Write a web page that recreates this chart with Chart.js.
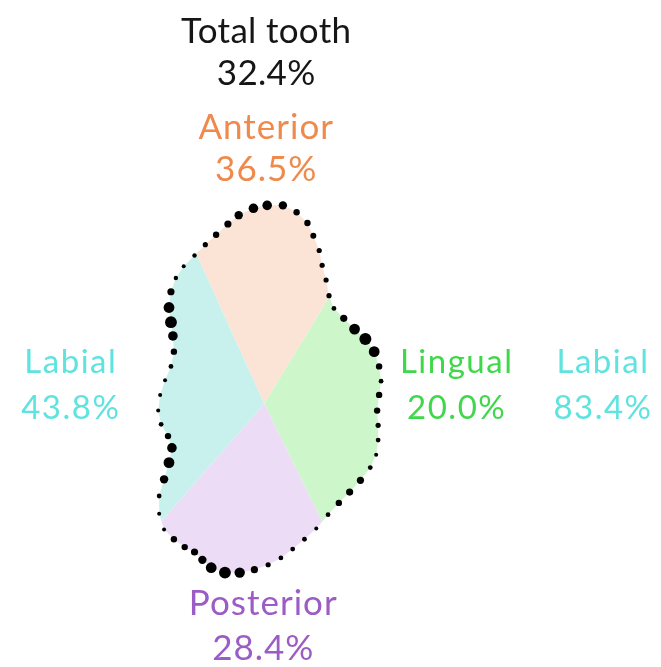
<!DOCTYPE html>
<html>
<head>
<meta charset="utf-8">
<script src="https://cdn.jsdelivr.net/npm/chart.js@4/dist/chart.umd.min.js"></script>
<style>
  html, body { margin: 0; padding: 0; background: #ffffff; }
  #wrap { width: 661px; height: 667px; }
</style>
</head>
<body>
<div id="wrap"><canvas id="tooth" width="661" height="667"></canvas></div>
<script>
// Tooth outline sample points (tooth-centred units, y up), clockwise from the tip
const outlineX = [0.3, 1.9, 3.3, 4.4, 5.0, 5.6, 5.9, 6.3, 6.6, 7.1, 8.1, 9.2, 10.3, 11.2, 11.7, 11.9,
  11.7, 11.5, 11.6, 11.6, 11.4, 10.8, 9.8, 8.7, 7.6, 6.5, 5.3, 4.1, 2.9, 1.7, 0.4, -1.0,
  -2.5, -4.0, -5.4, -6.3, -7.1, -8.1, -9.2, -10.2, -10.7, -10.7, -10.2, -9.7, -9.4, -9.8, -10.5, -10.8,
  -10.6, -10.1, -9.5, -9.2, -9.3, -9.5, -9.7, -9.5, -9.0, -8.2, -7.1, -6.0, -4.9, -3.7, -2.6, -1.1];
const outlineY = [20.2, 20.2, 19.5, 18.4, 17.1, 15.6, 14.1, 12.6, 11.0, 9.7, 8.7, 7.6, 6.6, 5.3, 3.8, 2.3,
  0.9, -0.7, -2.2, -3.7, -5.2, -6.5, -7.8, -9.0, -10.1, -11.3, -12.7, -13.8, -14.8, -15.7, -16.4, -16.9,
  -17.2, -17.2, -16.7, -15.9, -15.1, -14.6, -13.8, -12.8, -11.2, -9.4, -7.7, -6.0, -4.5, -3.3, -2.1, -0.7,
  0.9, 2.4, 3.8, 5.3, 6.9, 8.3, 9.8, 11.4, 12.8, 14.0, 15.1, 16.2, 17.2, 18.3, 19.2, 19.9];
// Dot size at each outline point
const dotSize = [4.8, 4.2, 3.2, 3.2, 3, 2.6, 2.6, 2.6, 2.6, 2.4, 3.6, 5.4, 6, 5.4, 3.2, 2.4,
  3.2, 3.2, 2.6, 2.4, 2, 2.4, 3.6, 3.6, 3.2, 2.4, 2, 2.4, 2.4, 2.4, 2.6, 3.6,
  5.2, 5.9, 5.4, 4.2, 3.6, 3.2, 3.2, 2, 2, 2.4, 4.2, 5.4, 4.8, 3.2, 2.4, 2,
  2, 2, 2.4, 3.2, 4.8, 5.9, 5.4, 3.6, 2.2, 2, 2.2, 2.6, 3.2, 3.6, 4.2, 4.8];

// Surface regions, their share and their angular extent (degrees, from the tooth centre)
const regionNames  = ['Anterior', 'Lingual', 'Posterior', 'Labial'];
const regionValues = [36.5, 20.0, 28.4, 43.8];
const regionFrom   = [58.6, 296.2, 228.8, 114.4];
const regionTo     = [114.4, 418.6, 296.2, 228.8];

const totalName  = 'Total tooth';
const totalValue = 32.4;
const extraName  = 'Labial';
const extraValue = 83.4;

// Styling
const regionFill = ['#fbe4d6', '#cdf7cb', '#ecdcf6', '#c8f1ee'];
const regionText = ['#ef8a4c', '#3fd84a', '#9c5cc6', '#5fe3df'];

// Label anchors (tooth-centred units)
const labelPos = {
  total:  { x: 0.2, y: [37.9, 33.6] },
  region: [
    { x: 0.2,   y: [28.1, 23.8] },   // Anterior
    { x: 19.6,  y: [4.2, -0.5] },    // Lingual
    { x: -0.1,  y: [-20.4, -25.0] }, // Posterior
    { x: -19.7, y: [4.2, -0.5] }     // Labial
  ],
  extra:  { x: 34.5, y: [4.2, -0.5] }
};

const fmt = v => v.toFixed(1) + '%';

const regionFillPlugin = {
  id: 'regionFill',
  beforeDatasetsDraw(chart) {
    const { ctx, scales: { x, y } } = chart;
    ctx.save();
    ctx.beginPath();
    outlineX.forEach((vx, i) => {
      const px = x.getPixelForValue(vx), py = y.getPixelForValue(outlineY[i]);
      if (i === 0) ctx.moveTo(px, py); else ctx.lineTo(px, py);
    });
    ctx.closePath();
    ctx.clip();
    const cx = x.getPixelForValue(0), cy = y.getPixelForValue(0);
    const R = 60;
    regionNames.forEach((name, i) => {
      ctx.beginPath();
      ctx.moveTo(cx, cy);
      for (let a = regionFrom[i]; a <= regionTo[i] + 0.001; a += (regionTo[i] - regionFrom[i]) / 40) {
        const rad = a * Math.PI / 180;
        ctx.lineTo(x.getPixelForValue(R * Math.cos(rad)), y.getPixelForValue(R * Math.sin(rad)));
      }
      ctx.closePath();
      ctx.fillStyle = regionFill[i];
      ctx.fill();
    });
    ctx.restore();
  }
};

const labelPlugin = {
  id: 'regionLabels',
  afterDatasetsDraw(chart) {
    const { ctx, scales: { x, y } } = chart;
    ctx.save();
    ctx.textAlign = 'center';
    ctx.textBaseline = 'middle';
    const put = (text, pos, line, color, font, spacing) => {
      ctx.font = font;
      ctx.fillStyle = color;
      ctx.letterSpacing = spacing + 'px';
      ctx.fillText(text, x.getPixelForValue(pos.x), y.getPixelForValue(pos.y[line]));
    };
    const big = '35px Lato, "Open Sans", sans-serif';
    const side = '33px Lato, "Open Sans", sans-serif';
    put(totalName, labelPos.total, 0, '#161616', big, 0.3);
    put(fmt(totalValue), labelPos.total, 1, '#161616', big, 0.3);
    regionNames.forEach((name, i) => {
      const f = (i === 1 || i === 3) ? side : big;
      const sp = (i === 1 || i === 3) ? 1.5 : 1;
      put(name, labelPos.region[i], 0, regionText[i], f, sp);
      put(fmt(regionValues[i]), labelPos.region[i], 1, regionText[i], f, sp);
    });
    put(extraName, labelPos.extra, 0, regionText[3], side, 1.5);
    put(fmt(extraValue), labelPos.extra, 1, regionText[3], side, 1.5);
    ctx.restore();
  }
};

new Chart(document.getElementById('tooth'), {
  type: 'bubble',
  data: {
    datasets: [{
      label: 'Outline',
      data: outlineX.map((vx, i) => ({ x: vx, y: outlineY[i], r: dotSize[i] })),
      backgroundColor: '#000000',
      borderWidth: 0,
      hoverRadius: 0
    }]
  },
  options: {
    responsive: false,
    animation: false,
    layout: { padding: 0 },
    plugins: { legend: { display: false }, tooltip: { enabled: false } },
    scales: {
      x: { type: 'linear', min: -26.3, max: 39.8, display: false },
      y: { type: 'linear', min: -26.2, max: 40.5, display: false }
    }
  },
  plugins: [regionFillPlugin, labelPlugin]
});
</script>
</body>
</html>
